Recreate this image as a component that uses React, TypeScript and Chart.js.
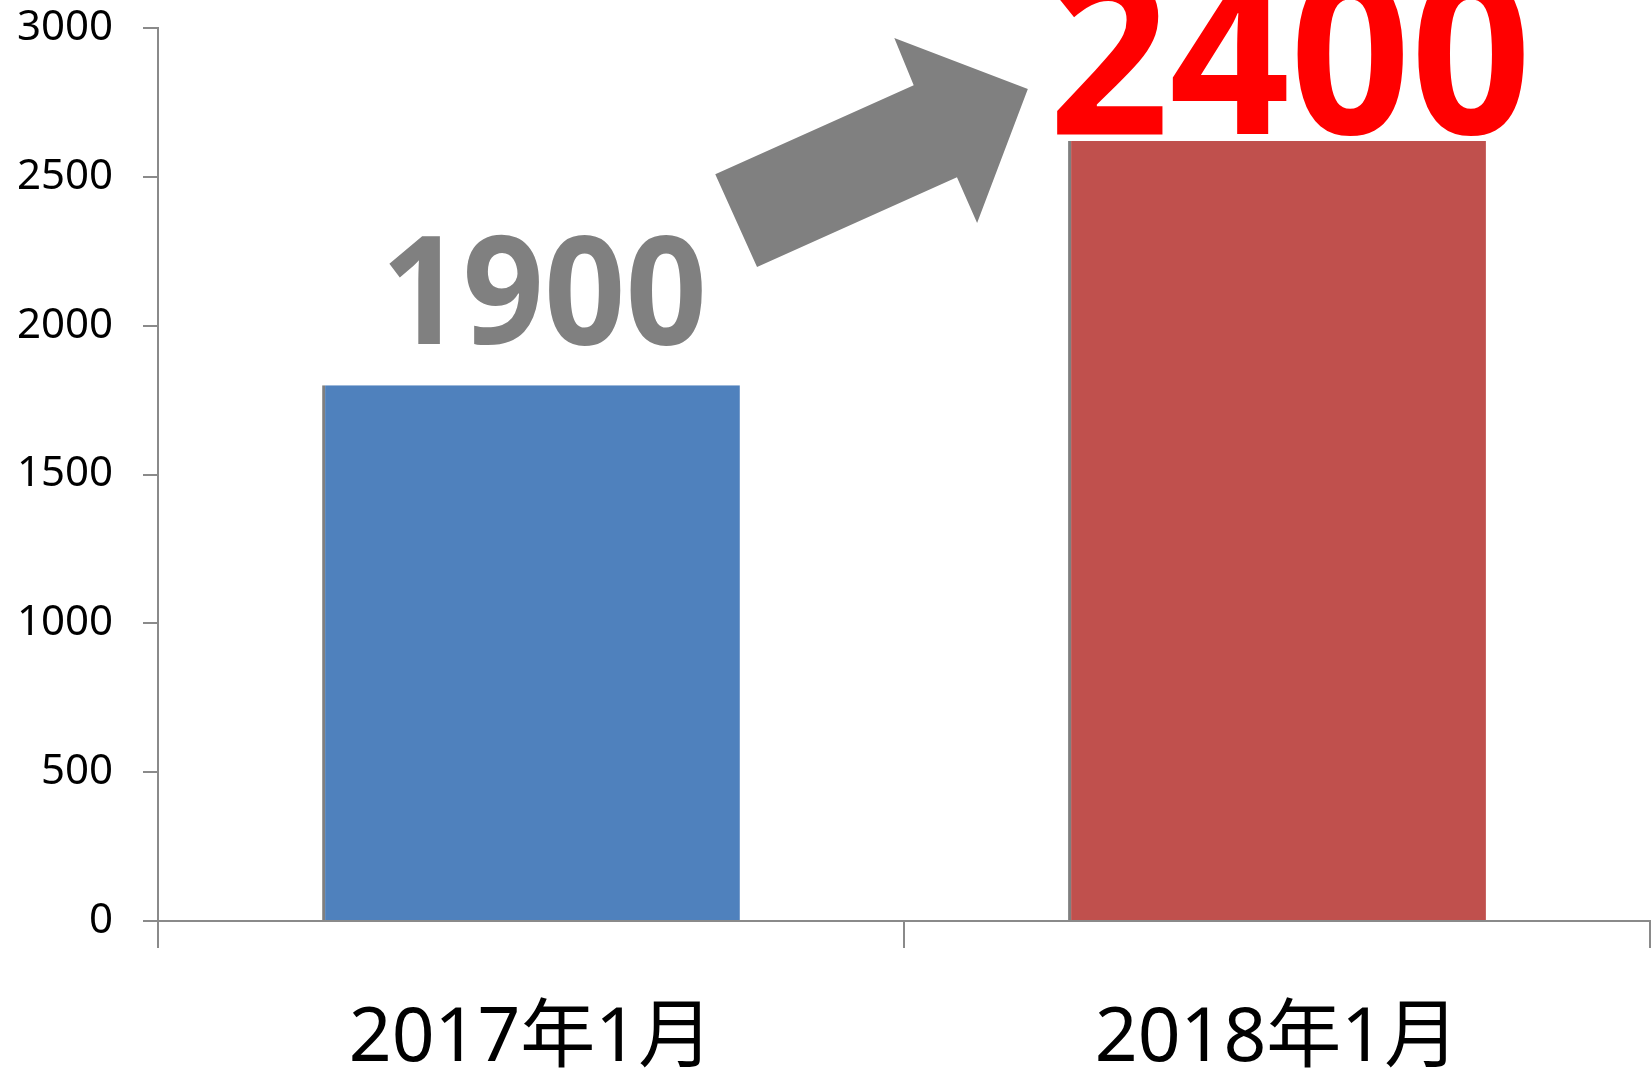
import React, { useEffect, useRef } from "react";
import { Chart, registerables } from "chart.js";

Chart.register(...registerables);

const categories = ["2017年1月", "2018年1月"];
const barValues = [1800, 2620];
const barColors = ["#4F81BD", "#C0504D"];
const valueLabels = ["1900", "2400"];
const valueLabelColors = ["#808080", "#FF0000"];
const valueLabelSizes = [150, 222];
const valueLabelGaps = [41, 7];
const yTicks = [0, 500, 1000, 1500, 2000, 2500, 3000];
// arrow annotation in (category index, value) space
const arrowIdx = [0.247, 0.513, 0.487, 0.666, 0.598, 0.571, 0.303];
const arrowVal = [2509, 2808, 2966, 2795, 2345, 2499, 2197];

const AXIS_COLOR = "#8a8a8a";
const FONT = '"Noto Sans", "Noto Sans CJK JP", sans-serif';

const overlayPlugin = {
  id: "overlay",
  afterDatasetsDraw(chart: any) {
    const ctx = chart.ctx;
    const xs = chart.scales.x;
    const ys = chart.scales.y;
    const meta = chart.getDatasetMeta(0);
    // arrow
    const c0 = xs.getPixelForValue(0);
    const c1 = xs.getPixelForValue(1);
    ctx.save();
    ctx.beginPath();
    arrowIdx.forEach((f, i) => {
      const px = c0 + (c1 - c0) * f;
      const py = ys.getPixelForValue(arrowVal[i]);
      if (i === 0) ctx.moveTo(px, py);
      else ctx.lineTo(px, py);
    });
    ctx.closePath();
    ctx.fillStyle = "#808080";
    ctx.fill();
    ctx.restore();
    // value labels
    meta.data.forEach((bar: any, i: number) => {
      ctx.save();
      ctx.translate(bar.x + 13, bar.y - valueLabelGaps[i]);
      ctx.scale(0.95, 1);
      ctx.font = `bold ${valueLabelSizes[i]}px "Noto Sans"`;
      ctx.fillStyle = valueLabelColors[i];
      ctx.textAlign = "center";
      ctx.textBaseline = "alphabetic";
      ctx.fillText(valueLabels[i], 0, 0);
      ctx.restore();
    });
  },
};

export default function App() {
  const ref = useRef<HTMLCanvasElement | null>(null);
  useEffect(() => {
    document.body.style.margin = "0";
    document.body.style.overflow = "hidden";
    const chart = new Chart(ref.current as HTMLCanvasElement, {
      type: "bar",
      data: {
        labels: categories,
        datasets: [
          {
            data: barValues,
            backgroundColor: barColors,
            borderColor: "#7f7f7f",
            borderWidth: { left: 3, top: 0, right: 0, bottom: 0 },
            borderSkipped: false,
            categoryPercentage: 1,
            barPercentage: 0.56,
          },
        ],
      },
      options: {
        animation: false,
        responsive: false,
        layout: { padding: { top: 28, right: 2, left: 0, bottom: 0 } },
        plugins: { legend: { display: false }, tooltip: { enabled: false } },
        scales: {
          x: {
            offset: true,
            afterFit(scale: any) {
              scale.height = 153;
              scale.paddingLeft = 0;
              scale.paddingRight = 0;
            },
            border: { display: true, color: AXIS_COLOR, width: 2 },
            grid: {
              offset: true,
              drawOnChartArea: false,
              drawTicks: true,
              tickLength: 27,
              color: AXIS_COLOR,
              lineWidth: 2,
            },
            ticks: {
              color: "#000",
              padding: 47,
              font: { family: FONT, size: 75 },
            },
          },
          y: {
            min: 0,
            max: 3000,
            afterFit(scale: any) {
              scale.width = 158;
              scale.paddingTop = 0;
              scale.paddingBottom = 0;
            },
            afterBuildTicks(scale: any) {
              scale.ticks = yTicks.map((v) => ({ value: v }));
            },
            border: { display: true, color: AXIS_COLOR, width: 2 },
            grid: {
              drawOnChartArea: false,
              drawTicks: true,
              tickLength: 15,
              color: AXIS_COLOR,
              lineWidth: 2,
            },
            ticks: {
              color: "#000",
              padding: 30,
              font: { family: FONT, size: 42 },
              callback: (v: any) => String(v),
            },
          },
        },
      } as any,
      plugins: [overlayPlugin],
    });
    return () => chart.destroy();
  }, []);
  return (
    <div style={{ width: 1652, height: 1074, background: "#fff" }}>
      <canvas ref={ref} width={1652} height={1074} />
    </div>
  );
}
